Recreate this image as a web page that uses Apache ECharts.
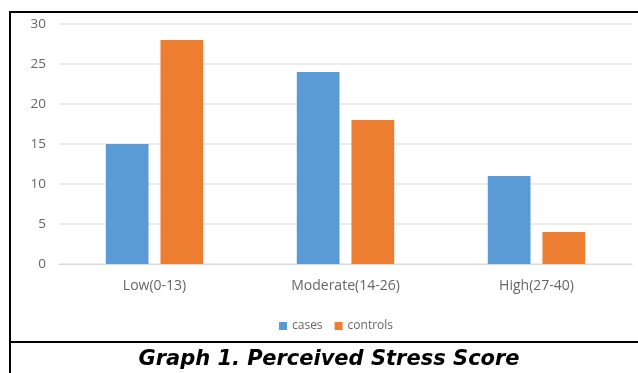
<!DOCTYPE html>
<html><head><meta charset="utf-8">
<script src="https://cdn.jsdelivr.net/npm/echarts@6/dist/echarts.min.js"></script>
<style>html,body{margin:0;padding:0;background:#fff}#c{width:638px;height:373px}</style>
</head><body><div id="c"></div>
<script>
var categories = ['Low(0-13)', 'Moderate(14-26)', 'High(27-40)'];
var cases = [15, 24, 11];
var controls = [28, 18, 4];
var caption = 'Graph 1. Perceived Stress Score';

var chart = echarts.init(document.getElementById('c'), null, {renderer: 'canvas'});
chart.setOption({
  animation: false,
  grid: {left: 59, right: 6, top: 24, bottom: 109, containLabel: false},
  legend: {
    data: ['cases', 'controls'], left: 274, top: 315,
    itemWidth: 8, itemHeight: 8, itemGap: 12, icon: 'rect',
    textStyle: {color: '#666666', fontSize: 12, fontFamily: 'Open Sans'}
  },
  xAxis: {
    type: 'category', data: categories,
    axisLine: {show: true, lineStyle: {color: '#d9d9d9'}},
    axisTick: {show: false},
    axisLabel: {color: '#666666', fontSize: 14, fontFamily: 'Open Sans', margin: 15}
  },
  yAxis: {
    type: 'value', min: 0, max: 30, interval: 5,
    axisLine: {show: false}, axisTick: {show: false},
    splitLine: {lineStyle: {color: '#e6e6e6', width: 1.5}},
    axisLabel: {color: '#666666', fontSize: 13.5, fontFamily: 'Open Sans', margin: 13}
  },
  series: [
    {name: 'cases', type: 'bar', data: cases, itemStyle: {color: '#5b9bd5'}, barGap: '28%', barCategoryGap: '49%'},
    {name: 'controls', type: 'bar', data: controls, itemStyle: {color: '#ed7d31'}, barGap: '28%', barCategoryGap: '49%'}
  ],
  graphic: [
    {type: 'line', shape: {x1: 9, y1: 12, x2: 638, y2: 12}, style: {stroke: '#000', lineWidth: 2}},
    {type: 'line', shape: {x1: 10, y1: 11, x2: 10, y2: 373}, style: {stroke: '#000', lineWidth: 2}},
    {type: 'line', shape: {x1: 9, y1: 342, x2: 638, y2: 342}, style: {stroke: '#000', lineWidth: 2}},
    {type: 'text', x: 329, y: 360, style: {text: caption, fill: '#000', font: 'italic bold 21px "DejaVu Sans"', textAlign: 'center', textVerticalAlign: 'middle'}}
  ]
});
</script>
</body></html>
